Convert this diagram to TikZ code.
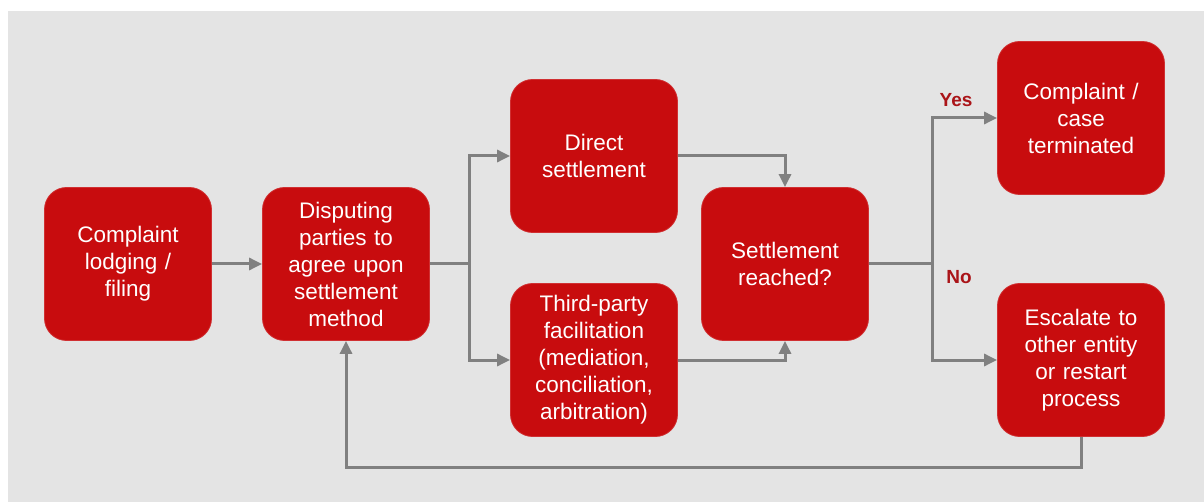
\documentclass[tikz,border=0pt]{standalone}
\usepackage{fontspec}
\setmainfont{Liberation Sans}
\usetikzlibrary{arrows.meta}
\definecolor{boxred}{RGB}{200,12,14}
\definecolor{panel}{RGB}{228,228,228}
\definecolor{wire}{RGB}{128,128,128}
\definecolor{tagred}{RGB}{170,20,24}
\tikzset{
  stepbox/.style={fill=boxred, draw=boxred!85!white, line width=0.8pt,
    rounded corners=22pt, minimum width=167pt, minimum height=153pt,
    inner sep=0pt, text width=150pt, align=center, text=white,
    font=\fontsize{22.5}{27}\selectfont},
  flow/.style={draw=wire, line width=3pt},
  arr/.style={flow, -{Triangle[length=13pt,width=12pt]}},
  tag/.style={text=tagred, font=\bfseries\fontsize{19}{22}\selectfont, inner sep=0pt}
}
\begin{document}
\begin{tikzpicture}[x=1pt, y=-1pt]
  % canvas and grey panel
  \useasboundingbox (0,0) rectangle (1204,502);
  \fill[white] (0,0) rectangle (1204,502);
  \fill[panel] (8,11) rectangle (1204,502);

  % process steps
  \node[stepbox] (lodge)  at (128,264)  {Complaint\\lodging /\\filing};
  \node[stepbox] (agree)  at (346,264)  {Disputing\\parties to\\agree upon\\settlement\\method};
  \node[stepbox] (direct) at (594,156)  {Direct\\settlement};
  \node[stepbox] (third)  at (594,360)  {Third-party\\facilitation\\(mediation,\\conciliation,\\arbitration)};
  \node[stepbox] (reach)  at (785,264)  {Settlement\\reached?};
  \node[stepbox] (term)   at (1081,118) {Complaint /\\case\\terminated};
  \node[stepbox] (escal)  at (1081,360) {Escalate to\\other entity\\or restart\\process};

  % branch points
  \coordinate (split) at (469,264);
  \coordinate (decide) at (932,264);

  % connectors
  \draw[arr] (lodge) -- (agree);
  \draw[flow] (agree.east) -- (split);
  \draw[arr] (split) |- (direct.west);
  \draw[arr] (split) |- (third.west);
  \draw[arr] (direct.east) -| (reach.north);
  \draw[arr] (third.east) -| (reach.south);
  \draw[flow] (reach.east) -- (decide);
  \draw[arr] (decide) |- (term.west);
  \draw[arr] (decide) |- (escal.west);
  \draw[arr] (escal.south) -- ++(0,31) -| (agree.south);

  % decision labels
  \node[tag] (yes) at (956,100) {Yes};
  \node[tag] (no)  at (959,277) {No};
\end{tikzpicture}
\end{document}
